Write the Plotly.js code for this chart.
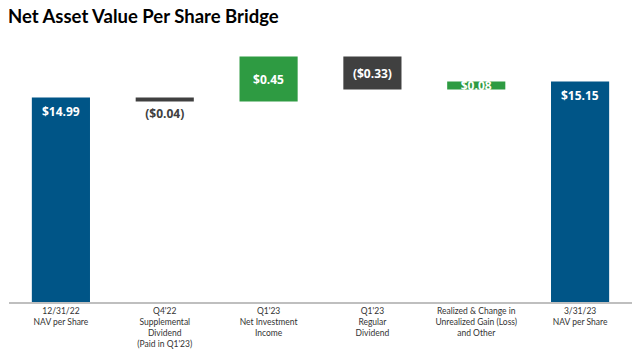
<!DOCTYPE html>
<html>
<head>
<meta charset="utf-8">
<script src="https://cdn.plot.ly/plotly-3.0.1.min.js"></script>
<style>html,body{margin:0;padding:0;background:#fff;}#chart{width:640px;height:352px;}</style>
</head>
<body>
<div id="chart"></div>
<script>
const categories = [
  "12/31/22<br>NAV per Share",
  "Q4'22<br>Supplemental<br>Dividend<br>(Paid in Q1'23)",
  "Q1'23<br>Net Investment<br>Income",
  "Q1'23<br>Regular<br>Dividend",
  "Realized & Change in<br>Unrealized Gain (Loss)<br>and Other",
  "3/31/23<br>NAV per Share"
];
const measures = ["absolute", "relative", "relative", "relative", "relative", "total"];
const values = [14.99, -0.04, 0.45, -0.33, 0.08, 15.15];
const barLabels = ["$14.99", "($0.04)", "$0.45", "($0.33)", "$0.08", "$15.15"];

const BLUE = "#005587", GREEN = "#2e9b42", DARK = "#404040";
const labelFont = "Open Sans, sans-serif";

const text = barLabels.map((t, i) => measures[i] === "relative" ? t : "");
const textpos = values.map((v, i) => (measures[i] === "relative" && Math.abs(v) < 0.05 && v < 0) ? "outside" : "inside");

const trace = {
  type: "waterfall",
  x: categories,
  y: values.map((v, i) => measures[i] === "total" ? 0 : v),
  measure: measures,
  text: text,
  textposition: textpos,
  textangle: 0,
  constraintext: "none",
  insidetextanchor: "middle",
  insidetextfont: {color: "#ffffff", size: 12, family: labelFont, weight: 700},
  outsidetextfont: {color: DARK, size: 12, family: labelFont, weight: 700},
  increasing: {marker: {color: GREEN}},
  decreasing: {marker: {color: DARK}},
  totals: {marker: {color: BLUE}},
  connector: {visible: false},
  hoverinfo: "skip",
  cliponaxis: false
};

const annotations = values.map((v, i) => measures[i] === "relative" ? null : {
  x: categories[i], y: v, xref: "x", yref: "y",
  text: barLabels[i], showarrow: false,
  yanchor: "top", yshift: -3,
  font: {color: "#ffffff", size: 12, family: labelFont, weight: 700}
}).filter(a => a);

const layout = {
  width: 640, height: 352,
  margin: {l: 9, r: 8, t: 40, b: 50},
  paper_bgcolor: "#fff", plot_bgcolor: "#fff",
  title: {
    text: "Net Asset Value Per Share Bridge",
    x: 8/640, xanchor: "left", xref: "container",
    y: 1 - 17/352, yanchor: "middle", yref: "container",
    font: {family: "Lato, sans-serif", size: 18.5, color: "#000", weight: 700}
  },
  showlegend: false,
  waterfallgap: 0.44,
  xaxis: {
    type: "category",
    showline: true, linecolor: "#bfbfbf", linewidth: 1.5,
    ticks: "", showgrid: false, zeroline: false,
    tickfont: {family: "Lato, sans-serif", size: 8.5, color: "#333"},
    automargin: false
  },
  yaxis: {
    visible: false,
    range: [12.945, 15.565],
    showgrid: false, zeroline: false
  },
  annotations: annotations,
  hovermode: false
};

Plotly.newPlot("chart", [trace], layout, {displayModeBar: false, staticPlot: true});
</script>
</body>
</html>
